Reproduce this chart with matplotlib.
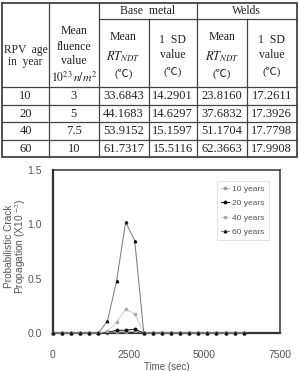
import matplotlib
matplotlib.use("Agg")
import matplotlib.pyplot as plt

plt.rcParams['mathtext.fontset'] = 'stix'

# ---------------- data ----------------
ages = ["10", "20", "40", "60"]
fluence = ["3", "5", "7.5", "10"]
base_mean = ["33.6843", "44.1683", "53.9152", "61.7317"]
base_sd = ["14.2901", "14.6297", "15.1597", "15.5116"]
weld_mean = ["23.8160", "37.6832", "51.1704", "62.3663"]
weld_sd = ["17.2611", "17.3926", "17.7798", "17.9908"]

time_sec = [0, 300, 600, 900, 1200, 1500, 1800, 2100, 2400, 2700, 3000,
            3300, 3600, 3900, 4200, 4500, 4800, 5100, 5400, 5700, 6000, 6300]
y10 = [0, 0, 0, 0, 0, 0, 0.003, 0.01, 0.01, 0.015, 0, 0, 0, 0, 0, 0, 0, 0, 0, 0, 0, 0]
y20 = [0, 0, 0, 0, 0, 0, 0.005, 0.025, 0.025, 0.035, 0, 0, 0, 0, 0, 0, 0, 0, 0, 0, 0, 0]
y40 = [0, 0, 0, 0, 0, 0, 0.015, 0.10, 0.22, 0.175, 0, 0, 0, 0, 0, 0, 0, 0, 0, 0, 0, 0]
y60 = [0, 0, 0, 0, 0, 0, 0.11, 0.48, 1.02, 0.85, 0, 0, 0, 0, 0, 0, 0, 0, 0, 0, 0, 0]
series_labels = ["10 years", "20 years", "40 years", "60 years"]
xticks = [0, 2500, 5000, 7500]
yticks = [0.0, 0.5, 1.0, 1.5]

W, H = 299, 371
fig = plt.figure(figsize=(W / 100, H / 100), dpi=100)

# ---------------- table ----------------
tx = fig.add_axes([0, 0, 1, 1])
tx.set_xlim(0, W)
tx.set_ylim(H, 0)
tx.axis('off')

cols = [2, 49, 98.5, 148.5, 197, 247, 296.5]
rows = [3, 19, 87, 104.5, 122, 139.5, 157]
lc = '#444444'
serif = ['Liberation Serif', 'Noto Sans CJK JP']

tx.plot([cols[0], cols[-1], cols[-1], cols[0], cols[0]],
        [rows[0], rows[0], rows[-1], rows[-1], rows[0]], color=lc, lw=1.3,
        solid_joinstyle='miter')
for i, x in enumerate(cols[1:-1], start=1):
    if i in (1, 2, 4):
        tx.plot([x, x], [rows[0], rows[-1]], color=lc, lw=0.9)
    else:
        tx.plot([x, x], [rows[1], rows[-1]], color=lc, lw=0.9)
tx.plot([cols[2], cols[-1]], [rows[1], rows[1]], color=lc, lw=0.9)
for y in rows[2:-1]:
    tx.plot([cols[0], cols[-1]], [y, y], color=lc, lw=0.9)

fs = 8.5
txtc = '#222222'
def ctext(x, y, s, size=fs):
    tx.text(x, y, s, ha='center', va='center', fontsize=size, color=txtc,
            family=serif, linespacing=1.1)

mid = lambda a, b: (a + b) / 2
ctext(mid(cols[2], cols[4]), mid(rows[0], rows[1]) + 0.5, "Base  metal")
ctext(mid(cols[4], cols[6]), mid(rows[0], rows[1]) + 0.5, "Welds")

ctext(mid(cols[0], cols[1]), 56, "RPV  age\nin  year", size=8.3)
ctext(mid(cols[1], cols[2]), 31.5, "Mean")
ctext(mid(cols[1], cols[2]), 46.5, "fluence")
ctext(mid(cols[1], cols[2]), 61.5, "value")
ctext(mid(cols[1], cols[2]), 78, r"$10^{23}\,n/m^{2}$", size=8.5)
for c in (2, 4):
    ctext(mid(cols[c], cols[c + 1]), 37.5, "Mean")
    ctext(mid(cols[c], cols[c + 1]), 56.5, r"$RT_{NDT}$", size=9)
    ctext(mid(cols[c], cols[c + 1]), 74, "(℃)", size=8)
for c in (3, 5):
    ctext(mid(cols[c], cols[c + 1]), 40, "1  SD")
    ctext(mid(cols[c], cols[c + 1]), 55.5, "value")
    ctext(mid(cols[c], cols[c + 1]), 72, "(℃)", size=8)

columns_data = [ages, fluence, base_mean, base_sd, weld_mean, weld_sd]
for ci, colvals in enumerate(columns_data):
    for ri, v in enumerate(colvals):
        ctext(mid(cols[ci], cols[ci + 1]), mid(rows[ri + 2], rows[ri + 3]) + 0.5, v, size=9)

# ---------------- chart ----------------
ax = fig.add_axes([53 / W, 1 - 333 / H, (280 - 53) / W, (333 - 170) / H])
sty = [
    dict(color='#aaaaaa', marker='s', ms=1.5, mfc='#999999', mec='#999999', lw=0.6),
    dict(color='#111111', marker='o', ms=1.8, mfc='#111111', mec='#111111', lw=0.7),
    dict(color='#c4c4c4', marker='s', ms=1.5, mfc='#aaaaaa', mec='#aaaaaa', lw=0.6),
    dict(color='#777777', marker='^', ms=1.8, mfc='#111111', mec='#111111', lw=0.7),
]
for ys, lab, st in zip([y10, y20, y40, y60], series_labels, sty):
    ax.plot(time_sec, ys, label=lab, clip_on=False, zorder=3, **st)

ax.set_xlim(0, 7500)
ax.set_ylim(0, 1.5)
ax.set_xticks(xticks)
ax.set_xticklabels([str(t) for t in xticks])
ax.set_yticks(yticks)
ax.set_yticklabels([f"{t:.1f}" for t in yticks])
sans = ['Liberation Sans', 'DejaVu Sans']
for lab in ax.get_xticklabels() + ax.get_yticklabels():
    lab.set_family(sans)
ax.tick_params(axis='both', length=0, labelsize=7.5, labelcolor='#555555')
ax.tick_params(axis='x', pad=12)
ax.tick_params(axis='y', pad=8)
for s in ['left', 'bottom']:
    ax.spines[s].set_linewidth(1.6)
    ax.spines[s].set_color('#333333')
for s in ['top', 'right']:
    ax.spines[s].set_linewidth(1.1)
    ax.spines[s].set_color('#333333')

ax.set_xlabel("Time (sec)", family=sans, fontsize=7, color='#555555', labelpad=2)
ax.set_ylabel("Probabilistic Crack\nPropagation (X10 $^{-2}$)", family=sans,
              fontsize=7.3, color='#555555', linespacing=0.9)
ax.yaxis.set_label_coords(-0.11, 0.53)

leg = ax.legend(loc='upper right', bbox_to_anchor=(0.97, 0.96),
                prop={'family': sans, 'size': 6}, frameon=True, fancybox=False,
                handlelength=1.0, handletextpad=0.4, borderpad=0.5,
                labelspacing=0.8, labelcolor='#555555')
leg.get_frame().set_edgecolor('#dddddd')
leg.get_frame().set_linewidth(0.8)

fig.savefig("out.png", dpi=100)
